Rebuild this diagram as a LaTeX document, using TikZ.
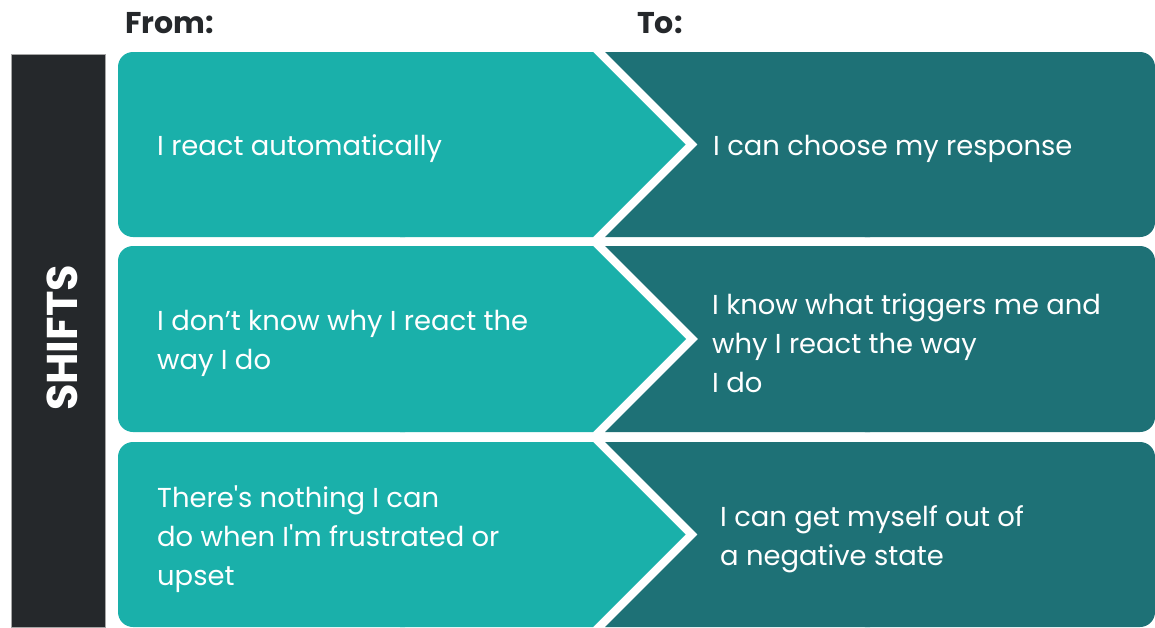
\documentclass[tikz,border=0pt]{standalone}
\usepackage{fontspec}
\setmainfont{Poppins}[Ligatures=TeXOff]
\definecolor{tealA}{HTML}{1AB0AA}
\definecolor{tealB}{HTML}{1E7176}
\definecolor{barC}{HTML}{25282B}
\begin{document}
\begin{tikzpicture}[x=1pt,y=-1pt,
  body/.style={text=white,anchor=west,align=left,inner sep=0pt,font=\fontsize{27.4}{39}\selectfont},
  head/.style={text=barC,anchor=west,inner sep=0pt,font=\fontsize{30}{32}\selectfont\bfseries}]
\useasboundingbox (0,0) rectangle (1155,627);
\fill[white] (0,0) rectangle (1155,627);
% side bar
\fill[barC,draw=gray!70,line width=0.8pt] (11.5,54.5) rectangle (105,627);
\node[text=white,font=\fontsize{43}{46}\selectfont\bfseries,rotate=90,inner sep=0pt] (shifts) at (62,338) {SHIFTS};
% headers
\node[head] (from) at (125,23) {From:};
\node[head] (to) at (637,23) {To:};
% rows
\foreach \t/\b in {52/237, 246/432, 442/627}{
  \pgfmathsetmacro{\m}{(\t+\b)/2}
  \pgfmathsetmacro{\h}{(\b-\t)/2}
  \fill[tealA,rounded corners=15pt] (118,\t) rectangle (420,\b);
  \fill[tealA] (400,\t) -- (593,\t) -- (593+\h,\m) -- (593,\b) -- (400,\b) -- cycle;
  \fill[tealB,rounded corners=15pt] (850,\t) rectangle (1155,\b);
  \fill[tealB] (605,\t) -- (870,\t) -- (870,\b) -- (605,\b) -- (605+\h,\m) -- cycle;
}
% texts
\node[body] (l1) at (157,149) {I react automatically};
\node[body] (r1) at (713,149) {I can choose my response};
\node[body] (l2) at (157,343) {I don’t know why I react the\\way I do};
\node[body] (r2) at (712,343) {I know what triggers me and\\why I react the way\\I do};
\node[body] (l3) at (157,539) {There's nothing I can\\do when I'm frustrated or\\upset};
\node[body] (r3) at (720,539) {I can get myself out of\\a negative state};
\end{tikzpicture}
\end{document}
